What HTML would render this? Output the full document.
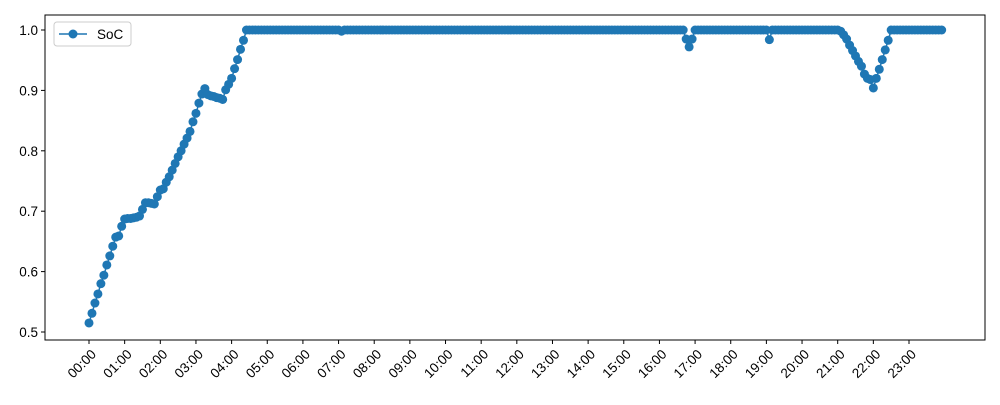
<!DOCTYPE html>
<html><head><meta charset="utf-8"><style>
body{margin:0;background:#fff;}
svg{font-family:"Liberation Sans","DejaVu Sans",sans-serif;}
</style></head><body>
<svg id="chart" width="1000" height="400" xmlns="http://www.w3.org/2000/svg">
<rect x="0" y="0" width="1000" height="400" fill="#fff"/>
<g id="marks"></g>
<rect x="45" y="15" width="940" height="325" fill="none" stroke="#000" stroke-width="1"/>
<g id="yaxis"></g>
<g id="xaxis"></g>
<g>
<rect x="54" y="22" width="77" height="24" rx="3" fill="#fff" stroke="#ccc"/>
<line x1="59" y1="34" x2="87" y2="34" stroke="#1f77b4" stroke-width="1.5"/>
<circle cx="73" cy="34" r="4.5" fill="#1f77b4"/>
<text x="97" y="39" font-size="13.5" fill="#000">SoC</text>
</g>
</svg>
<script>
// SoC every 5 min from 00:00 to 04:30 (rises), then 1.0 with dips
const rampValues=[0.515,0.531,0.548,0.563,0.580,0.594,0.611,0.626,0.642,0.657,0.659,0.675,0.687,0.688,0.688,0.689,0.690,0.692,0.703,0.714,0.714,0.713,0.712,0.724,0.735,0.737,0.748,0.757,0.768,0.779,0.790,0.800,0.811,0.821,0.832,0.848,0.862,0.879,0.894,0.903,0.893,0.891,0.890,0.888,0.887,0.885,0.901,0.910,0.920,0.936,0.951,0.968,0.983,1.0];
const dipIndex=[85,201,202,203,229,253,254,255,256,257,258,259,260,261,262,263,264,265,266,267,268,269];
const dipValues=[0.998,0.985,0.972,0.985,0.984,0.998,0.992,0.985,0.975,0.966,0.957,0.948,0.940,0.927,0.920,0.918,0.904,0.920,0.935,0.951,0.967,0.983];
const yTicks=[0.5,0.6,0.7,0.8,0.9,1.0];
const xTickLabels=["00:00","01:00","02:00","03:00","04:00","05:00","06:00","07:00","08:00","09:00","10:00","11:00","12:00","13:00","14:00","15:00","16:00","17:00","18:00","19:00","20:00","21:00","22:00","23:00"];
const nPoints=288;

const NS="http://www.w3.org/2000/svg";
function xPos(minutes){return 89+minutes/60*35.652;}
function yPos(v){return 30+(1-v)*604;}
const vals=[];
for(let i=0;i<nPoints;i++){vals.push(i<rampValues.length?rampValues[i]:1.0);}
dipIndex.forEach((k,j)=>{vals[k]=dipValues[j];});

const marks=document.getElementById('marks');
let d="";
vals.forEach((v,i)=>{d+=(i?"L":"M")+xPos(i*5).toFixed(2)+","+yPos(v).toFixed(2);});
const path=document.createElementNS(NS,'path');
path.setAttribute('d',d);path.setAttribute('fill','none');path.setAttribute('stroke','#1f77b4');path.setAttribute('stroke-width','1.5');


marks.appendChild(path);
vals.forEach((v,i)=>{
 const c=document.createElementNS(NS,'circle');
 c.setAttribute('cx',xPos(i*5));c.setAttribute('cy',yPos(v));c.setAttribute('r','4.5');c.setAttribute('fill','#1f77b4');
 
 
 marks.appendChild(c);
});

const ya=document.getElementById('yaxis');
yTicks.forEach(t=>{
 const y=yPos(t);
 const l=document.createElementNS(NS,'line');
 l.setAttribute('x1',41);l.setAttribute('x2',45);l.setAttribute('y1',y);l.setAttribute('y2',y);l.setAttribute('stroke','#000');
 
 
 ya.appendChild(l);
 const tx=document.createElementNS(NS,'text');
 tx.setAttribute('x',38);tx.setAttribute('y',y+5);tx.setAttribute('text-anchor','end');tx.setAttribute('font-size','13.5');
 tx.textContent=t.toFixed(1);
 
 
 ya.appendChild(tx);
});
const xa=document.getElementById('xaxis');
xTickLabels.forEach((s,i)=>{
 const x=xPos(i*60);
 const l=document.createElementNS(NS,'line');
 l.setAttribute('x1',x);l.setAttribute('x2',x);l.setAttribute('y1',340);l.setAttribute('y2',344);l.setAttribute('stroke','#000');
 
 
 xa.appendChild(l);
 const tx=document.createElementNS(NS,'text');
 tx.setAttribute('text-anchor','end');tx.setAttribute('font-size','13.5');
 tx.setAttribute('transform','translate('+(x+8)+',355) rotate(-45)');
 tx.textContent=s;
 
 
 xa.appendChild(tx);
});
</script>
</body></html>
